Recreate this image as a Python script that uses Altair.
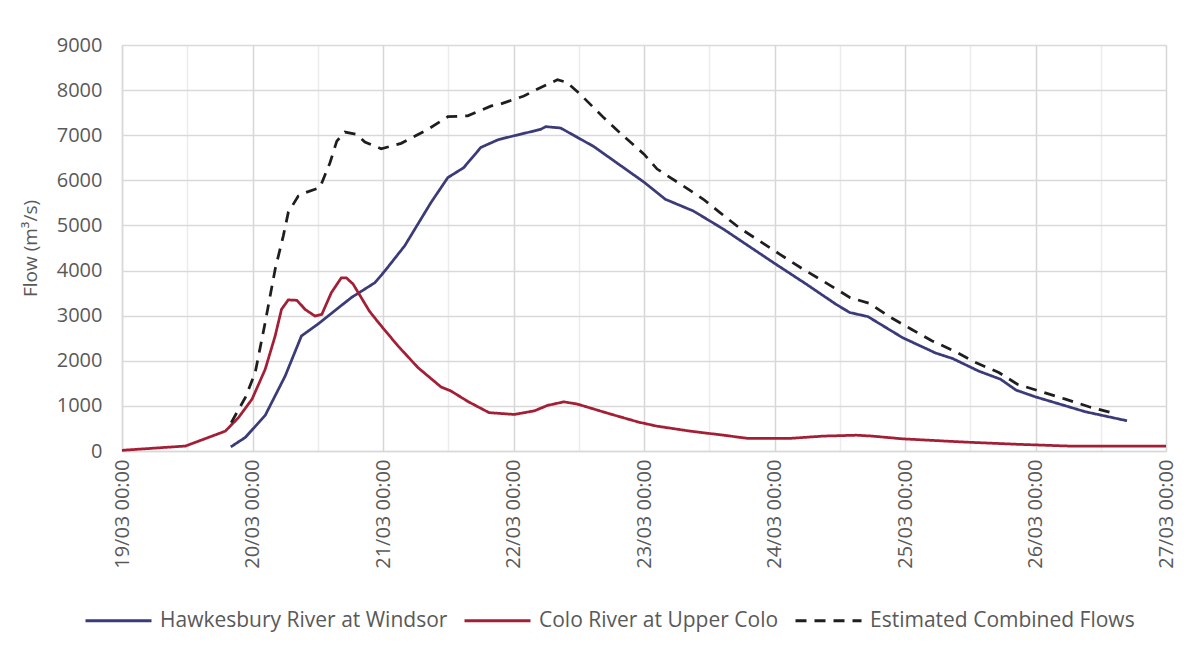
import altair as alt
import pandas as pd

series_names = ["Hawkesbury River at Windsor", "Colo River at Upper Colo", "Estimated Combined Flows"]
series_colors = ["#3c3b7a", "#a31f36", "#1e1e1e"]
series_dashes = [[1, 0], [1, 0], [11, 8]]

hawk_time = ["2021-03-19T20:00", "2021-03-19T22:40", "2021-03-20T02:20", "2021-03-20T06:00",
             "2021-03-20T09:00", "2021-03-20T12:00", "2021-03-20T18:10", "2021-03-20T22:30",
             "2021-03-21T00:20", "2021-03-21T04:00", "2021-03-21T08:50", "2021-03-21T11:55",
             "2021-03-21T14:50", "2021-03-21T18:00", "2021-03-21T21:10", "2021-03-22T00:10",
             "2021-03-22T05:00", "2021-03-22T05:55", "2021-03-22T08:40", "2021-03-22T14:45",
             "2021-03-22T20:15", "2021-03-23T00:00", "2021-03-23T03:55", "2021-03-23T09:05",
             "2021-03-23T14:35", "2021-03-23T23:45", "2021-03-24T05:50", "2021-03-24T11:20",
             "2021-03-24T13:50", "2021-03-24T17:10", "2021-03-24T23:35", "2021-03-25T05:40",
             "2021-03-25T08:45", "2021-03-25T13:35", "2021-03-25T17:35", "2021-03-25T20:25",
             "2021-03-26T00:00", "2021-03-26T09:10", "2021-03-26T16:50"]
hawk_flow = [90, 300, 790, 1660, 2550, 2810, 3400, 3730, 3990, 4550, 5510, 6060, 6280, 6730,
             6900, 6990, 7130, 7190, 7160, 6750, 6280, 5960, 5580, 5320, 4920, 4180, 3700,
             3250, 3070, 2980, 2510, 2170, 2050, 1770, 1590, 1350, 1200, 870, 670]

colo_time = ["2021-03-19T00:00", "2021-03-19T11:40", "2021-03-19T19:00", "2021-03-19T21:25",
             "2021-03-19T23:55", "2021-03-20T02:20", "2021-03-20T04:10", "2021-03-20T05:20",
             "2021-03-20T06:35", "2021-03-20T08:10", "2021-03-20T09:40", "2021-03-20T11:30",
             "2021-03-20T12:45", "2021-03-20T14:30", "2021-03-20T16:20", "2021-03-20T17:15",
             "2021-03-20T18:30", "2021-03-20T20:00", "2021-03-20T21:30", "2021-03-20T23:25",
             "2021-03-21T02:45", "2021-03-21T06:25", "2021-03-21T10:40", "2021-03-21T12:30",
             "2021-03-21T15:35", "2021-03-21T19:30", "2021-03-22T00:10", "2021-03-22T03:50",
             "2021-03-22T06:15", "2021-03-22T09:15", "2021-03-22T11:45", "2021-03-22T17:15",
             "2021-03-22T23:00", "2021-03-23T02:25", "2021-03-23T08:30", "2021-03-23T14:40",
             "2021-03-23T19:00", "2021-03-24T02:55", "2021-03-24T08:55", "2021-03-24T15:05",
             "2021-03-24T18:00", "2021-03-24T23:30", "2021-03-25T07:25", "2021-03-25T10:35",
             "2021-03-25T20:25", "2021-03-26T06:00", "2021-03-27T00:00"]
colo_flow = [15, 110, 440, 740, 1150, 1810, 2550, 3140, 3350, 3340, 3140, 2990, 3030, 3510,
             3840, 3840, 3700, 3400, 3100, 2810, 2330, 1850, 1420, 1330, 1100, 850, 810, 890,
             1010, 1090, 1040, 840, 640, 550, 440, 350, 280, 280, 330, 350, 330, 270, 220,
             200, 150, 110, 110]

comb_time = ["2021-03-19T20:05", "2021-03-19T22:40", "2021-03-20T00:30", "2021-03-20T02:20",
             "2021-03-20T04:10", "2021-03-20T05:40", "2021-03-20T06:35", "2021-03-20T08:25",
             "2021-03-20T09:20", "2021-03-20T12:25", "2021-03-20T13:00", "2021-03-20T14:15",
             "2021-03-20T15:30", "2021-03-20T17:00", "2021-03-20T19:10", "2021-03-20T20:40",
             "2021-03-20T23:40", "2021-03-21T03:20", "2021-03-21T08:15", "2021-03-21T11:55",
             "2021-03-21T15:35", "2021-03-21T19:55", "2021-03-21T21:35", "2021-03-22T01:55",
             "2021-03-22T04:20", "2021-03-22T08:05", "2021-03-22T09:50", "2021-03-22T12:15",
             "2021-03-22T16:35", "2021-03-22T20:15", "2021-03-23T00:00", "2021-03-23T02:25",
             "2021-03-23T07:10", "2021-03-23T10:55", "2021-03-23T13:55", "2021-03-23T17:30",
             "2021-03-24T01:00", "2021-03-24T05:15", "2021-03-24T08:55", "2021-03-24T13:55",
             "2021-03-24T17:30", "2021-03-24T21:05", "2021-03-25T01:10", "2021-03-25T05:00",
             "2021-03-25T09:20", "2021-03-25T13:00", "2021-03-25T17:15", "2021-03-25T20:40",
             "2021-03-26T01:10", "2021-03-26T05:30", "2021-03-26T09:50", "2021-03-26T13:40"]
comb_flow = [630, 1180, 1740, 2850, 4030, 4770, 5290, 5650, 5710, 5840, 6020, 6390, 6870,
             7070, 7020, 6850, 6700, 6820, 7130, 7410, 7430, 7650, 7690, 7870, 8020, 8230,
             8170, 7910, 7390, 6980, 6580, 6250, 5880, 5580, 5290, 4950, 4360, 4030, 3770,
             3400, 3270, 2980, 2700, 2440, 2200, 1960, 1740, 1480, 1310, 1150, 980, 860]

frames = []
for name, t, v in [(series_names[0], hawk_time, hawk_flow),
                   (series_names[1], colo_time, colo_flow),
                   (series_names[2], comb_time, comb_flow)]:
    frames.append(pd.DataFrame({"time": t, "flow": v, "series": name}))
df = pd.concat(frames, ignore_index=True)

FONT = "Open Sans"
GREY = "#595959"

day_ticks = [alt.DateTime(year=2021, month=3, date=d) for d in range(19, 28)]
half_day_ticks = []
for d in range(19, 27):
    half_day_ticks.append(alt.DateTime(year=2021, month=3, date=d, hours=0))
    half_day_ticks.append(alt.DateTime(year=2021, month=3, date=d, hours=12))
half_day_ticks.append(alt.DateTime(year=2021, month=3, date=27, hours=0))

legend = alt.Legend(title=None, orient="none", direction="horizontal",
                    legendX=-38, legendY=541,
                    symbolType="stroke", symbolSize=4356, symbolStrokeWidth=3,
                    labelFont=FONT, labelFontSize=21, labelColor=GREY,
                    labelLimit=400, columnPadding=10, labelOffset=7)

chart = alt.Chart(df).mark_line(strokeWidth=2.75).encode(
    x=alt.X("time:T",
            scale=alt.Scale(domain=[day_ticks[0], day_ticks[-1]]),
            axis=alt.Axis(title=None, values=half_day_ticks,
                          labelExpr="hours(datum.value) == 0 ? timeFormat(datum.value, '%d/%m %H:%M') : ''",
                          labelAngle=270, labelFont=FONT, labelFontSize=20, labelColor=GREY,
                          labelPadding=8, ticks=False, domainColor="#d9d9d9", domainWidth=1.5,
                          gridColor={"condition": {"test": "hours(datum.value) == 0", "value": "#d6d6d6"},
                                     "value": "#ececec"},
                          gridWidth=1.5)),
    y=alt.Y("flow:Q",
            scale=alt.Scale(domain=[0, 9000]),
            axis=alt.Axis(title="Flow (m³/s)", values=list(range(0, 9001, 1000)), format="d",
                          labelFont=FONT, labelFontSize=20, labelColor=GREY,
                          titleFont=FONT, titleFontSize=19, titleColor=GREY, titleFontWeight="normal",
                          titlePadding=16, labelPadding=20, ticks=False,
                          domainColor="#d9d9d9", domainWidth=1.5,
                          gridColor="#d9d9d9", gridWidth=1.5)),
    color=alt.Color("series:N", scale=alt.Scale(domain=series_names, range=series_colors),
                    legend=legend),
    strokeDash=alt.StrokeDash("series:N",
                              scale=alt.Scale(domain=series_names, range=series_dashes),
                              legend=legend),
).properties(width=1044, height=406,
             padding={"left": 13, "top": 27, "right": 2, "bottom": 5})

chart.save("out.html", embed_options={"renderer": "svg", "actions": False})
